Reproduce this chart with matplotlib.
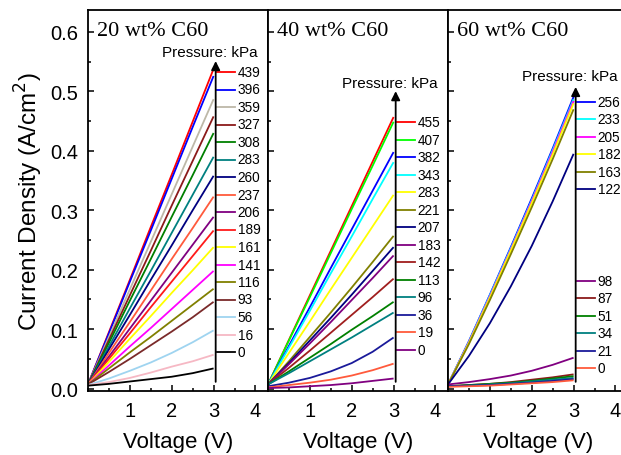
import matplotlib
matplotlib.use("Agg")
import matplotlib.pyplot as plt
from matplotlib.ticker import MultipleLocator, NullFormatter, FormatStrFormatter

# ---------------- data ----------------
voltage = [0.0, 0.5, 1.0, 1.5, 2.0, 2.5, 3.0]

titles = ["20 wt% C60", "40 wt% C60", "60 wt% C60"]

p20_labels = ["439", "396", "359", "327", "308", "283", "260", "237",
              "206", "189", "161", "141", "116", "93", "56", "16", "0"]
p20_colors = ["#ff0000", "#0000ff", "#bdb8a8", "#8b1a1a", "#008000", "#008080",
              "#000080", "#ff5a3c", "#800080", "#ff1a1a", "#ffff00", "#ff00ff",
              "#808000", "#7a2a2a", "#9fd4f0", "#f6b8c4", "#000000"]
p20_values = [
    [0.007, 0.095, 0.183, 0.272, 0.360, 0.449, 0.538],
    [0.007, 0.093, 0.180, 0.266, 0.353, 0.440, 0.526],
    [0.007, 0.087, 0.167, 0.247, 0.327, 0.407, 0.487],
    [0.007, 0.082, 0.157, 0.232, 0.308, 0.383, 0.458],
    [0.007, 0.077, 0.148, 0.218, 0.289, 0.359, 0.430],
    [0.007, 0.071, 0.135, 0.198, 0.262, 0.326, 0.390],
    [0.007, 0.066, 0.124, 0.183, 0.241, 0.300, 0.358],
    [0.007, 0.060, 0.112, 0.165, 0.218, 0.270, 0.323],
    [0.007, 0.054, 0.101, 0.148, 0.195, 0.242, 0.289],
    [0.007, 0.050, 0.093, 0.137, 0.180, 0.223, 0.266],
    [0.007, 0.045, 0.084, 0.122, 0.161, 0.199, 0.238],
    [0.007, 0.039, 0.071, 0.102, 0.134, 0.166, 0.198],
    [0.007, 0.034, 0.061, 0.087, 0.114, 0.141, 0.168],
    [0.007, 0.028, 0.050, 0.073, 0.096, 0.120, 0.146],
    [0.006, 0.017, 0.030, 0.044, 0.060, 0.078, 0.098],
    [0.006, 0.011, 0.018, 0.027, 0.037, 0.046, 0.057],
    [0.005, 0.008, 0.012, 0.016, 0.020, 0.026, 0.034],
]

p40_labels = ["455", "407", "382", "343", "283", "221", "207", "183",
              "142", "113", "96", "36", "19", "0"]
p40_colors = ["#ff0000", "#00ff00", "#0000ff", "#00ffff", "#ffff00", "#808000",
              "#000080", "#800080", "#a01e1e", "#008000", "#008080", "#1a1a9a",
              "#ff5a3c", "#800080"]
p40_values = [
    [0.007, 0.082, 0.157, 0.232, 0.307, 0.382, 0.457],
    [0.007, 0.081, 0.154, 0.228, 0.302, 0.375, 0.449],
    [0.007, 0.072, 0.137, 0.203, 0.268, 0.333, 0.398],
    [0.007, 0.069, 0.131, 0.194, 0.256, 0.319, 0.381],
    [0.007, 0.060, 0.113, 0.167, 0.220, 0.273, 0.326],
    [0.007, 0.046, 0.087, 0.128, 0.170, 0.213, 0.257],
    [0.007, 0.043, 0.081, 0.119, 0.158, 0.198, 0.238],
    [0.007, 0.041, 0.076, 0.112, 0.149, 0.186, 0.224],
    [0.007, 0.035, 0.064, 0.094, 0.124, 0.154, 0.185],
    [0.007, 0.029, 0.052, 0.075, 0.099, 0.122, 0.146],
    [0.007, 0.026, 0.046, 0.066, 0.086, 0.107, 0.128],
    [0.004, 0.010, 0.018, 0.029, 0.043, 0.062, 0.086],
    [0.002, 0.006, 0.010, 0.015, 0.022, 0.031, 0.042],
    [0.001, 0.002, 0.004, 0.006, 0.009, 0.013, 0.017],
]

p60_labels = ["256", "233", "205", "182", "163", "122",
              "98", "87", "51", "34", "21", "0"]
p60_colors = ["#0000ff", "#00ffff", "#ff00ff", "#ffff00", "#808000", "#000080",
              "#800080", "#8b1a1a", "#008000", "#008080", "#1a1a9a", "#ff5a3c"]
p60_values = [
    [0.007, 0.080, 0.158, 0.238, 0.320, 0.404, 0.491],
    [0.007, 0.079, 0.157, 0.236, 0.317, 0.401, 0.487],
    [0.007, 0.078, 0.155, 0.234, 0.315, 0.398, 0.484],
    [0.007, 0.077, 0.153, 0.232, 0.312, 0.394, 0.480],
    [0.007, 0.075, 0.149, 0.226, 0.305, 0.386, 0.470],
    [0.007, 0.055, 0.110, 0.172, 0.240, 0.315, 0.395],
    [0.007, 0.011, 0.016, 0.022, 0.030, 0.040, 0.052],
    [0.004, 0.006, 0.008, 0.011, 0.015, 0.019, 0.024],
    [0.004, 0.006, 0.008, 0.010, 0.013, 0.017, 0.021],
    [0.004, 0.005, 0.007, 0.009, 0.012, 0.015, 0.018],
    [0.004, 0.005, 0.006, 0.008, 0.010, 0.013, 0.016],
    [0.003, 0.004, 0.005, 0.007, 0.009, 0.011, 0.014],
]

# ---------------- layout ----------------
W, H = 621, 456
def ax_rect(left_px):
    return [left_px / W, (H - 392) / H, 180 / W, 381 / H]

def leg_positions(y_top, y_bot, n):
    step = (y_bot - y_top) / (n - 1) if n > 1 else 0
    return [(392 - (y_top + i * step)) / 381 for i in range(n)]

panels = [
    dict(left=88, labels=p20_labels, colors=p20_colors, values=p20_values,
         legy=leg_positions(73, 353, 17), tip=0.866, ptxt=0.890),
    dict(left=268, labels=p40_labels, colors=p40_colors, values=p40_values,
         legy=leg_positions(123, 351, 14), tip=0.787, ptxt=0.808),
    dict(left=448, labels=p60_labels, colors=p60_colors, values=p60_values,
         legy=leg_positions(103, 190, 6) + leg_positions(282, 369, 6),
         tip=0.798, ptxt=0.827),
]

plt.rcParams['font.family'] = ['Liberation Sans', 'DejaVu Sans']
fig = plt.figure(figsize=(W / 100, H / 100), dpi=100)

for i, p in enumerate(panels):
    ax = fig.add_axes(ax_rect(p['left']))
    for vals, col in zip(p['values'], p['colors']):
        ax.plot(voltage, vals, color=col, lw=1.3, solid_capstyle='butt')
    ax.set_xlim(0, 4.3)
    ax.set_ylim(-0.004, 0.637)
    ax.xaxis.set_minor_locator(MultipleLocator(0.5))
    ax.set_xticks([1, 2, 3, 4])
    ax.yaxis.set_major_locator(MultipleLocator(0.1))
    ax.yaxis.set_minor_locator(MultipleLocator(0.05))
    ax.tick_params(which='both', direction='in', top=False, right=False,
                   width=1.1, colors='black')
    ax.tick_params(which='major', length=4.5, labelsize=14.5, pad=7)
    ax.tick_params(which='minor', length=2.5)
    if i == 0:
        ax.yaxis.set_major_formatter(FormatStrFormatter('%.1f'))
        ax.set_ylabel("Current Density (A/cm$^2$)", fontsize=17.5, labelpad=4)
    else:
        ax.yaxis.set_major_formatter(NullFormatter())
    ax.set_xlabel("Voltage (V)", fontsize=16, labelpad=8)
    for s in ax.spines.values():
        s.set_linewidth(1.3)
    ax.text(0.05, 0.945, titles[i], transform=ax.transAxes,
            fontfamily='Liberation Serif', fontsize=16, va='center', ha='left')

    # legend with arrow
    tr = ax.get_xaxis_transform()
    ax.annotate("", xy=(3.05, p['tip']), xytext=(3.05, 0.024),
                xycoords=tr, textcoords=tr,
                arrowprops=dict(arrowstyle='-|>', color='black', lw=1.3,
                                mutation_scale=13, shrinkA=0, shrinkB=0))
    ax.text(2.9, p['ptxt'], "Pressure: kPa", transform=tr, ha='center',
            va='center', fontsize=11)
    for lab, col, yy in zip(p['labels'], p['colors'], p['legy']):
        ax.plot([3.08, 3.52], [yy, yy], color=col, lw=1.3, transform=tr,
                clip_on=False)
        ax.text(3.58, yy, lab, transform=tr, ha='left', va='center', fontsize=9.8)

fig.savefig("out.png", dpi=100)
